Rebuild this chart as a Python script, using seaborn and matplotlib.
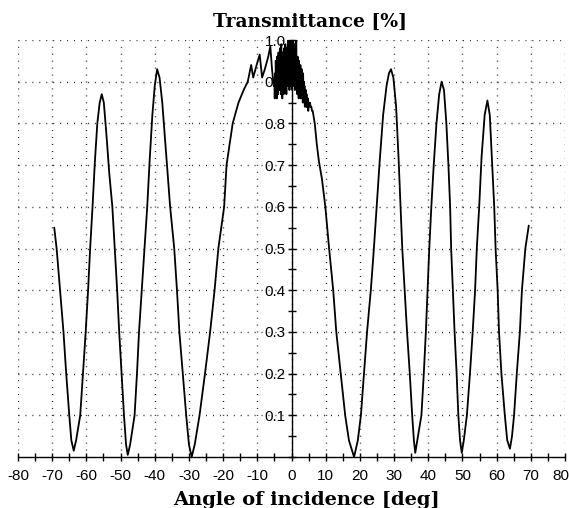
import matplotlib
matplotlib.use("Agg")
import matplotlib.pyplot as plt
import matplotlib.transforms as mtransforms
import seaborn as sns
import pandas as pd
from matplotlib.ticker import MultipleLocator, FixedLocator

# ---- data ----
angle = [
    -69.4, -68.7, -67.7, -66.7, -65.9, -65.0, -64.4, -63.7, -63.0, -61.8,
    -61.0, -60.2, -59.5, -58.9, -58.2, -57.5, -56.8, -56.1, -55.5, -54.9,
    -54.2, -53.3, -52.4, -51.7, -51.0, -50.4, -49.7, -49.0, -48.4, -47.9,
    -47.2, -45.9, -45.2, -44.6, -43.8, -43.0, -42.2, -41.5, -40.7, -40.0,
    -39.3, -38.6, -37.8, -36.8, -35.5, -34.3, -33.5, -32.8, -31.8, -30.8,
    -30.0, -29.2, -28.3, -26.9, -25.3, -23.8, -22.5, -21.4, -19.7, -19.0,
    -17.2, -15.5, -14.0, -12.8, -11.8, -11.2, -10.2, -9.3, -8.6, -7.8,
    -6.8, -6.2, -5.7, -5.2,
    -5.0, -4.9, -4.8, -4.7, -4.6, -4.5, -4.4, -4.3, -4.2, -4.1,
    -4.0, -3.9, -3.8, -3.7, -3.6, -3.5, -3.4, -3.3, -3.2, -3.1,
    -3.0, -2.9, -2.8, -2.7, -2.6, -2.5, -2.4, -2.3, -2.2, -2.1,
    -2.0, -1.9, -1.8, -1.7, -1.6, -1.5, -1.4, -1.3, -1.2, -1.1,
    -1.0, -0.9, -0.8, -0.7, -0.6, -0.5, -0.4, -0.3, -0.2, -0.1,
    0.0, 0.1, 0.2, 0.3, 0.4, 0.5, 0.6, 0.7, 0.8, 0.9,
    1.0, 1.1, 1.2, 1.3, 1.4, 1.5, 1.6, 1.7, 1.8, 1.9,
    2.0, 2.1, 2.2, 2.3, 2.4, 2.5, 2.6, 2.7, 2.8, 2.9,
    3.0, 3.1, 3.2, 3.3, 3.4, 3.5, 3.6, 3.7, 3.8, 3.9,
    4.0, 4.1, 4.2, 4.3, 4.4, 4.5, 4.6, 4.7, 4.8, 4.9,
    5.0, 5.2, 5.4, 5.6, 5.8, 6.0, 6.2,
    6.8, 7.4, 8.0, 8.9, 9.9, 11.0, 12.2, 13.1, 14.4, 15.7,
    16.8, 18.3, 19.4, 20.3, 21.2, 22.1, 23.2, 24.1, 24.9, 25.8,
    26.8, 27.8, 28.5, 29.1, 29.8, 30.6, 31.3, 31.9, 32.4, 33.1,
    33.8, 34.6, 35.3, 35.8, 36.2, 36.8, 38.0, 38.7, 39.3, 39.8,
    40.3, 40.9, 41.6, 42.4, 43.2, 43.9, 44.6, 45.3, 45.9, 46.4,
    46.7, 47.2, 47.7, 48.3, 48.8, 49.3, 49.8, 50.4, 51.3, 52.2,
    53.0, 53.7, 54.2, 54.9, 55.6, 56.5, 57.3, 58.0, 58.7, 59.3,
    59.7, 60.3, 60.7, 61.4, 62.4, 63.1, 63.9, 64.5, 65.1, 65.9,
    66.8, 67.4, 68.4, 69.4,
]
transmittance = [
    0.55, 0.50, 0.40, 0.30, 0.20, 0.10, 0.04, 0.015, 0.04, 0.10,
    0.20, 0.30, 0.40, 0.50, 0.60, 0.71, 0.80, 0.85, 0.87, 0.85,
    0.78, 0.68, 0.60, 0.50, 0.40, 0.30, 0.20, 0.10, 0.03, 0.005,
    0.03, 0.10, 0.20, 0.30, 0.40, 0.50, 0.60, 0.71, 0.82, 0.89,
    0.93, 0.91, 0.85, 0.74, 0.60, 0.50, 0.40, 0.30, 0.20, 0.10,
    0.03, 0.00, 0.03, 0.10, 0.20, 0.30, 0.40, 0.50, 0.60, 0.70,
    0.80, 0.85, 0.88, 0.90, 0.94, 0.91, 0.94, 0.965, 0.91, 0.93,
    0.96, 0.985, 0.93, 0.89,
    0.90, 0.86, 0.92, 0.87, 0.95, 0.88, 0.93, 0.86, 0.96, 0.89,
    0.94, 0.87, 0.97, 0.90, 0.95, 0.88, 0.98, 0.91, 0.96, 0.87,
    0.99, 0.90, 0.95, 0.86, 0.97, 0.89, 0.94, 0.87, 0.98, 0.90,
    0.96, 0.88, 0.99, 0.91, 0.95, 0.87, 0.98, 0.90, 0.96, 0.89,
    0.99, 1.00, 0.90, 0.97, 0.88, 0.99, 0.91, 1.00, 0.89, 0.97,
    0.92, 1.00, 0.88, 0.98, 0.90, 1.00, 0.89, 0.96, 0.91, 0.99,
    0.88, 0.97, 0.90, 0.98, 1.00, 0.89, 0.95, 0.87, 0.96, 0.89,
    0.94, 0.86, 0.95, 0.88, 0.93, 0.87, 0.94, 0.86, 0.92, 0.87,
    0.93, 0.86, 0.91, 0.85, 0.92, 0.86, 0.90, 0.85, 0.89, 0.84,
    0.88, 0.85, 0.88, 0.84, 0.87, 0.84, 0.86, 0.84, 0.86, 0.83,
    0.85, 0.84, 0.85, 0.84, 0.84, 0.83, 0.83,
    0.80, 0.75, 0.71, 0.667, 0.60, 0.50, 0.40, 0.30, 0.20, 0.10,
    0.04, 0.00, 0.04, 0.10, 0.20, 0.30, 0.40, 0.50, 0.60, 0.71,
    0.82, 0.89, 0.92, 0.93, 0.91, 0.84, 0.72, 0.60, 0.50, 0.40,
    0.30, 0.20, 0.10, 0.04, 0.01, 0.04, 0.10, 0.20, 0.30, 0.40,
    0.50, 0.60, 0.70, 0.80, 0.87, 0.90, 0.88, 0.80, 0.70, 0.60,
    0.50, 0.40, 0.30, 0.20, 0.10, 0.04, 0.01, 0.04, 0.10, 0.20,
    0.30, 0.40, 0.50, 0.60, 0.72, 0.82, 0.855, 0.82, 0.70, 0.60,
    0.50, 0.40, 0.30, 0.20, 0.10, 0.04, 0.02, 0.05, 0.10, 0.20,
    0.30, 0.40, 0.50, 0.555,
]
x_ticks = list(range(-80, 81, 10))
y_ticks = [0.1, 0.2, 0.3, 0.4, 0.5, 0.6, 0.7, 0.8, 0.9, 1.0]
y_tick_labels = ["0.1", "0.2", "0.3", "0.4", "0.5", "0.6", "0.7", "0.8", "0.9", "1.0"]
title = "Transmittance [%]"
x_label = "Angle of incidence [deg]"

df = pd.DataFrame({"angle": angle, "T": transmittance})

sns.set_style("white")
plt.rcParams["font.family"] = ["Liberation Sans", "DejaVu Sans"]
plt.rcParams["axes.unicode_minus"] = False

fig = plt.figure(figsize=(5.69, 5.08), dpi=100)
ax = fig.add_axes([18 / 569, (508 - 457) / 508, 547 / 569, 417 / 508])

sns.lineplot(data=df, x="angle", y="T", sort=False, estimator=None,
             color="black", linewidth=1.3, ax=ax, zorder=3)

ax.set_xlim(-80, 80)
ax.set_ylim(0, 1.0)
ax.set_axisbelow(True)

# grid
for gx in x_ticks:
    ax.axvline(gx, color="#222222", linewidth=1.0, linestyle=(0, (0.7, 4.3)), zorder=1)
for gy in y_ticks:
    ax.axhline(gy, color="#222222", linewidth=1.0, linestyle=(0, (0.7, 4.3)), zorder=1)

for s in ["top", "right"]:
    ax.spines[s].set_visible(False)
ax.spines["left"].set_position(("data", 0))
ax.spines["left"].set_color("black")
ax.spines["bottom"].set_color("black")
ax.spines["left"].set_linewidth(1.0)
ax.spines["bottom"].set_linewidth(1.0)

ax.xaxis.set_major_locator(FixedLocator(x_ticks))
ax.xaxis.set_minor_locator(MultipleLocator(5))
ax.set_xticklabels([str(t) for t in x_ticks])
ax.yaxis.set_major_locator(FixedLocator(y_ticks))
ax.yaxis.set_minor_locator(MultipleLocator(0.05))
ax.set_yticklabels(y_tick_labels)

ax.tick_params(axis="x", which="both", direction="inout", length=5.5, width=1,
               color="black", labelsize=11, labelcolor="black", pad=6, bottom=True)
ax.tick_params(axis="y", which="both", direction="inout", length=5.5, width=1,
               color="black", labelsize=11, labelcolor="black", pad=1.5, left=True)
ax.set_xlabel("")
ax.set_ylabel("")

# keep the last x label ("80") inside the picture, as in the reference
last = ax.get_xticklabels()[-1]
last.set_transform(last.get_transform() +
                   mtransforms.ScaledTranslation(-4 / 100, 0, fig.dpi_scale_trans))

fig.text(0.545, 1 - 27 / 508, title, ha="center", va="baseline", color="black",
         family="DejaVu Serif", weight="bold", fontsize=13.5)
fig.text(0.538, 1 - 505 / 508, x_label, ha="center", va="baseline", color="black",
         family="DejaVu Serif", weight="bold", fontsize=14)

fig.savefig("out.png", dpi=100)
